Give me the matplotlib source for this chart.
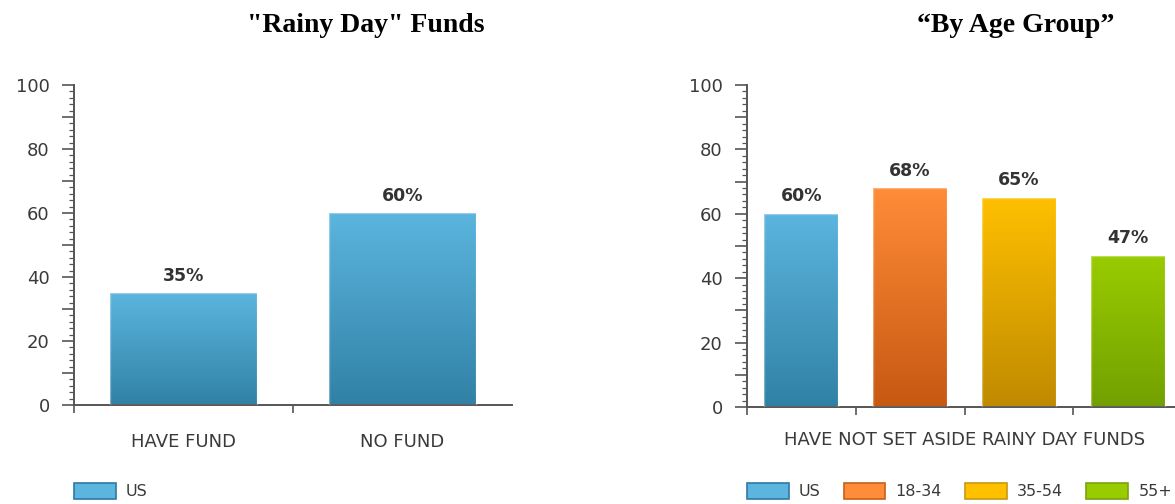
import numpy as np
import matplotlib
matplotlib.use("Agg")
import matplotlib.pyplot as plt
from matplotlib.patches import Patch
from matplotlib.ticker import MultipleLocator, FuncFormatter
from matplotlib.colors import LinearSegmentedColormap

# data
fund_cats = ["HAVE FUND", "NO FUND"]
fund_vals = [35, 60]
age_groups = ["US", "18-34", "35-54", "55+"]
age_vals = [60, 68, 65, 47]
age_label = "HAVE NOT SET ASIDE RAINY DAY FUNDS"

# (top, bottom, edge) colours per series
shades = {
    "US": ("#5bb5de", "#3181a6", "#2d7aa3"),
    "18-34": ("#ff8c38", "#c75812", "#c5611d"),
    "35-54": ("#ffc000", "#bf8a00", "#c79a10"),
    "55+": ("#99cc00", "#72a000", "#7aa310"),
}

W, H = 1175, 504
fig = plt.figure(figsize=(W / 100, H / 100), dpi=100)
AX_COL = "#555555"
TXT_COL = "#3a3a3a"
FS = 13


def px_axes(x0, y0, x1, y1):
    return fig.add_axes([x0 / W, 1 - y1 / H, (x1 - x0) / W, (y1 - y0) / H])


def style(ax):
    for s in ("top", "right"):
        ax.spines[s].set_visible(False)
    for s in ("left", "bottom"):
        ax.spines[s].set_color(AX_COL)
        ax.spines[s].set_linewidth(1.4)
    ax.set_ylim(0, 100)
    ax.yaxis.set_major_locator(MultipleLocator(10))
    ax.yaxis.set_minor_locator(MultipleLocator(2))
    ax.yaxis.set_major_formatter(FuncFormatter(lambda v, p: f"{v:.0f}" if v % 20 == 0 else ""))
    ax.tick_params(axis="y", which="major", length=8.5, width=1.2, color=AX_COL,
                   labelsize=FS, labelcolor=TXT_COL, pad=9)
    ax.tick_params(axis="y", which="minor", length=3.6, width=0.9, color=AX_COL)
    ax.set_facecolor("none")


def grad_bars(ax, xs, vals, names, width):
    bars = ax.bar(xs, vals, width=width, color="none", edgecolor="none", zorder=2)
    grad = np.linspace(0, 1, 256).reshape(-1, 1)
    for b, v, n in zip(bars, vals, names):
        top, bot, _ = shades[n]
        cmap = LinearSegmentedColormap.from_list(n, [top, bot])
        x0, w, h = b.get_x(), b.get_width(), b.get_height()
        im = ax.imshow(grad, cmap=cmap, aspect="auto", extent=(x0, x0 + w, 0, h),
                       origin="upper", zorder=2)
        im.set_clip_path(b)
        ax.bar(b.get_x() + w / 2, h, width=w, color="none",
               edgecolor=(1, 1, 1, 0.35), linewidth=1.0, zorder=3)
        ax.annotate(f"{v}%", (x0 + w / 2, h), xytext=(0, 6), textcoords="offset points",
                    ha="center", va="bottom", fontsize=12.5, fontweight="bold",
                    color="#333333")
    return bars


# left chart
ax1 = px_axes(74, 85, 512, 405)
style(ax1)
x1 = np.arange(len(fund_cats))
grad_bars(ax1, x1, fund_vals, ["US"] * len(fund_vals), 0.667)
ax1.set_xlim(-0.5, len(fund_cats) - 0.5)
ax1.set_xticks(x1, fund_cats)
ax1.set_xticks(np.arange(len(fund_cats)) - 0.5, minor=True)
ax1.tick_params(axis="x", which="major", length=0, pad=20, labelsize=FS, labelcolor=TXT_COL)
ax1.tick_params(axis="x", which="minor", length=6, width=1.2, color=AX_COL)

# right chart
ax2 = px_axes(747, 85, 1182, 407)
style(ax2)
x2 = np.arange(len(age_groups))
grad_bars(ax2, x2, age_vals, age_groups, 0.68)
ax2.set_xlim(-0.5, len(age_groups) - 0.5)
ax2.set_xticks(np.arange(len(age_groups)) - 0.5)
ax2.set_xticklabels([])
ax2.tick_params(axis="x", which="major", length=6, width=1.2, color=AX_COL)
ax2.set_xlabel(age_label, fontsize=FS, color=TXT_COL, labelpad=8)

# legends
def legend(ax, names, anchor_x):
    handles = [Patch(facecolor=shades[n][0], edgecolor=shades[n][2], linewidth=1.2, label=n)
               for n in names]
    ax.legend(handles=handles, loc="upper left", ncol=len(names),
              bbox_to_anchor=(anchor_x / W, 1 - 483 / H), bbox_transform=fig.transFigure,
              frameon=False, fontsize=11.5, labelcolor=TXT_COL,
              handlelength=2.6, handleheight=1.15, handletextpad=0.65,
              columnspacing=1.45, borderpad=0, borderaxespad=0)

legend(ax1, ["US"], 74)
legend(ax2, age_groups, 747)

# titles
fig.text(366 / W, 1 - 25 / H, "\"Rainy Day\" Funds", ha="center", va="center",
         fontsize=20, fontweight="bold", family="Liberation Serif")
fig.text(1016 / W, 1 - 25 / H, "\u201cBy Age Group\u201d", ha="center", va="center",
         fontsize=20, fontweight="bold", family="Liberation Serif")

fig.savefig("out.png", dpi=100)
